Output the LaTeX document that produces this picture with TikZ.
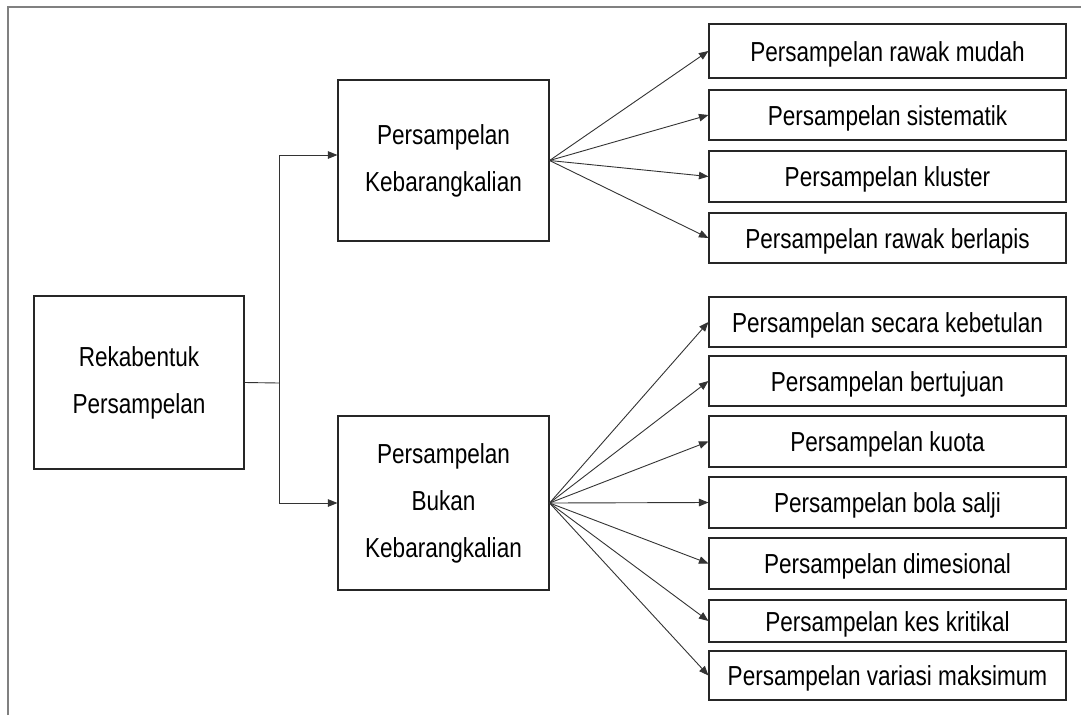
\documentclass[tikz,border=0pt]{standalone}
\usepackage{fontspec}
\setmainfont[FakeStretch=0.82]{Liberation Sans}
\usetikzlibrary{arrows.meta}
\begin{document}
\begin{tikzpicture}[x=1pt,y=-1pt,
  box/.style={draw=black!85, line width=1.1pt, align=center, inner sep=0pt,
    font=\fontsize{27.5}{47}\selectfont},
  rbox/.style={box, minimum width=357pt, text height=20pt, text depth=0pt},
  conn/.style={draw=black!80, line width=0.9pt},
  arr/.style={conn, -{Triangle[length=9.5pt,width=7.5pt]}}]
\useasboundingbox (0,0) rectangle (1081,715);
% frame
\draw[draw=black!50, line width=2pt] (8,715) -- (8,7) -- (1081,7);
% nodes
\node[box, minimum width=210pt, minimum height=173pt] (root) at (139,382.5) {Rekabentuk\\Persampelan};
\node[box, minimum width=211pt, minimum height=161pt] (pk) at (443.5,160.5) {Persampelan\\Kebarangkalian};
\node[box, minimum width=211pt, minimum height=174pt] (pbk) at (443.5,503) {Persampelan\\Bukan\\Kebarangkalian};
\node[rbox, minimum height=54pt] (a1) at (887.5,51) {Persampelan rawak mudah};
\node[rbox, minimum height=50pt] (a2) at (887.5,115) {Persampelan sistematik};
\node[rbox, minimum height=51pt] (a3) at (887.5,176.5) {Persampelan kluster};
\node[rbox, minimum height=50pt] (a4) at (887.5,238) {Persampelan rawak berlapis};
\node[rbox, minimum height=50pt] (b1) at (887.5,322) {Persampelan secara kebetulan};
\node[rbox, minimum height=50pt] (b2) at (887.5,381) {Persampelan bertujuan};
\node[rbox, minimum height=51pt] (b3) at (887.5,441.5) {Persampelan kuota};
\node[rbox, minimum height=51pt] (b4) at (887.5,502.5) {Persampelan bola salji};
\node[rbox, minimum height=51pt] (b5) at (887.5,563.5) {Persampelan dimesional};
\node[rbox, minimum height=42pt] (b6) at (887.5,621) {Persampelan kes kritikal};
\node[rbox, minimum height=49pt] (b7) at (887.5,675.5) {Persampelan variasi maksimum};
% connectors
\coordinate (j) at (279,383);
\draw[conn] (root.east) -- (j);
\draw[arr] (j) |- ([yshift=5.5pt]pk.west);
\draw[arr] (j) |- (pbk.west);
\foreach \t in {a1,a2,a3,a4} \draw[arr] (pk.east) -- (\t.west);
\foreach \t in {b1,b2,b3,b4,b5,b6,b7} \draw[arr] (pbk.east) -- (\t.west);
\end{tikzpicture}
\end{document}
